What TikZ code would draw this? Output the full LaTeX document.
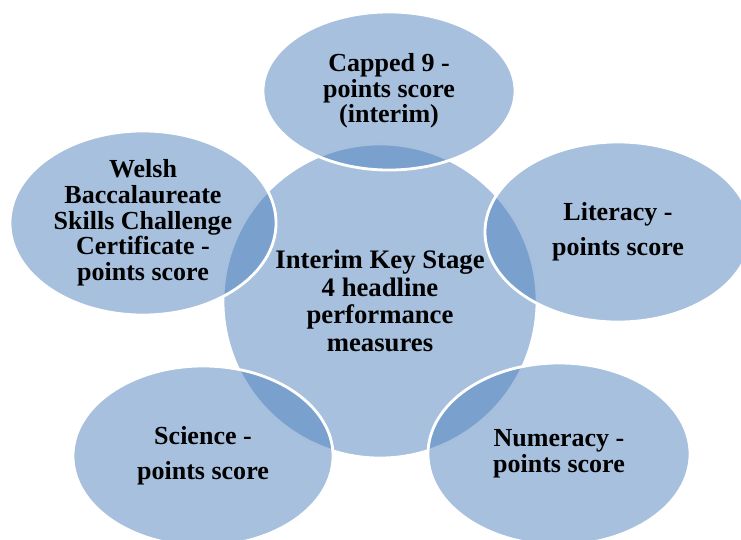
\documentclass[tikz,border=0pt]{standalone}
\usepackage{fontspec}
\setmainfont{Liberation Serif}
\usetikzlibrary{shapes.geometric}
\definecolor{accentblue}{HTML}{4F81BD}
\tikzset{
  bubble/.style={ellipse, draw=white, line width=2pt, fill=accentblue,
    fill opacity=0.5, text opacity=1, inner sep=0pt, align=center,
    font=\fontsize{18.5}{18.3}\selectfont\bfseries},
  hub/.style={bubble, minimum width=7.85cm, minimum height=7.85cm,
    font=\fontsize{19}{19.6}\selectfont\bfseries}
}
\begin{document}
\begin{tikzpicture}[x=0.025cm,y=-0.025cm]
    \useasboundingbox (0,0) rectangle (741,539);
    % centre first, the outer measures go on top of it
    \node [hub] (cen) at (380,301) {Interim Key Stage\\4 headline\\performance\\measures};
    \node [bubble, minimum width=6.3cm, minimum height=3.95cm] (capped) at (389,91) {Capped 9 -\\points score\\(interim)};
    \node [bubble, minimum width=6.65cm, minimum height=4.6cm] (welsh) at (143,223) {Welsh\\Baccalaureate\\Skills Challenge\\Certificate -\\points score};
    \node [bubble, minimum width=6.65cm, minimum height=4.5cm] (lit) at (618,232) {Literacy -\\[6.6pt]points score};
    \node [bubble, minimum width=6.5cm, minimum height=4.5cm] (sci) at (203,456) {Science -\\[6.6pt]points score};
    \node [bubble, minimum width=6.55cm, minimum height=4.55cm] (num) at (559,454) {Numeracy -\\points score};
\end{tikzpicture}
\end{document}
